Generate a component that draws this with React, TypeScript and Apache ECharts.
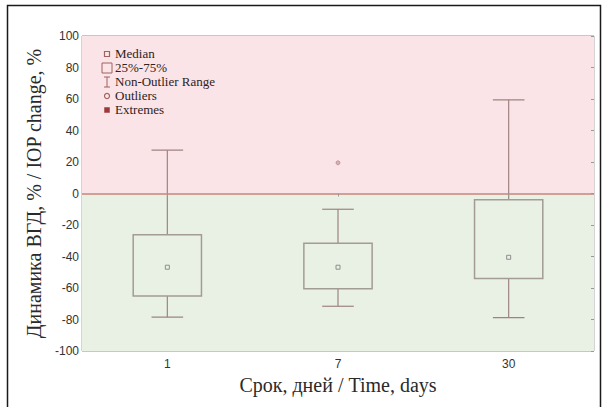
import React, { useEffect, useRef } from "react";
import * as echarts from "echarts";

const categories = ["1", "7", "30"];
const whiskerLow = [-78.5, -71.6, -78.8];
const q1 = [-65.0, -60.5, -54.0];
const median = [-46.8, -46.8, -40.5];
const q3 = [-26.2, -31.6, -4.0];
const whiskerHigh = [27.5, -10.0, 59.5];
const outliers: [number, number][] = [[1, 19.5]];
const yTicks = { min: -100, max: 100, interval: 20 };
const legendLabels = ["Median", "25%-75%", "Non-Outlier Range", "Outliers", "Extremes"];

const BOX_STROKE = "#a39c94";
const WHISKER = "#9e8480";
const SERIF = "'Liberation Serif', 'DejaVu Serif', serif";
const SANS = "'Liberation Sans', Arial, sans-serif";
const LEG = "#a0635e";

export default function App() {
  const ref = useRef<HTMLDivElement>(null);
  useEffect(() => {
    if (!ref.current) return;
    const chart = echarts.init(ref.current, null, { renderer: "svg" });
    const boxData = categories.map((_, i) => [i, whiskerLow[i], q1[i], median[i], q3[i], whiskerHigh[i]]);

    const legY0 = 54;
    const legStep = 14;
    const legX = 107;
    const ly = (i: number) => legY0 + i * legStep;
    const titles = legendLabels.map((t, i) => ({
      text: t,
      left: 115,
      top: ly(i) - 8,
      padding: 0,
      itemGap: 0,
      textStyle: { fontFamily: SERIF, fontSize: 13, fontWeight: "normal", color: "#2e2222", lineHeight: 15 },
      z: 20,
    }));
    const legendGraphics: any[] = [
      { type: "rect", shape: { x: legX - 2.5, y: ly(0) - 2.5, width: 5, height: 5 }, style: { fill: "none", stroke: LEG, lineWidth: 1.2 }, z: 20 },
      { type: "rect", shape: { x: legX - 5, y: ly(1) - 5, width: 10, height: 10 }, style: { fill: "none", stroke: LEG, lineWidth: 1 }, z: 20 },
      { type: "line", shape: { x1: legX, y1: ly(2) - 5, x2: legX, y2: ly(2) + 5 }, style: { stroke: LEG, lineWidth: 1 }, z: 20 },
      { type: "line", shape: { x1: legX - 3, y1: ly(2) - 5, x2: legX + 3, y2: ly(2) - 5 }, style: { stroke: LEG, lineWidth: 1 }, z: 20 },
      { type: "line", shape: { x1: legX - 3, y1: ly(2) + 5, x2: legX + 3, y2: ly(2) + 5 }, style: { stroke: LEG, lineWidth: 1 }, z: 20 },
      { type: "circle", shape: { cx: legX, cy: ly(3), r: 2.5 }, style: { fill: "none", stroke: LEG, lineWidth: 1.2 }, z: 20 },
      { type: "rect", shape: { x: legX - 2.5, y: ly(4) - 2.5, width: 5, height: 5 }, style: { fill: "#9b3a3a", stroke: "#9b3a3a", lineWidth: 0.5 }, z: 20 },
      {
        type: "rect",
        shape: { x: 7.5, y: 5.5, width: 593, height: 420 },
        style: { fill: "none", stroke: "#1a1a1a", lineWidth: 1.5 },
        z: 20,
      },
    ];

    chart.setOption({
      animation: false,
      backgroundColor: "#ffffff",
      title: titles,
      grid: {
        left: 82,
        right: 12,
        top: 36,
        bottom: 56,
        show: true,
        borderColor: "#a9a9a9",
        borderWidth: 1,
        backgroundColor: "transparent",
      },
      xAxis: [
        {
          type: "category",
          data: categories,
          boundaryGap: true,
          axisLine: { show: false },
          axisTick: { show: false },
          axisLabel: { fontFamily: SANS, fontSize: 12, color: "#333", margin: 7 },
          name: "Срок, дней / Time, days",
          nameLocation: "middle",
          nameGap: 21,
          nameTextStyle: { fontFamily: SERIF, fontSize: 20, color: "#2a2a2a" },
        },
        {
          type: "category",
          data: categories,
          position: "top",
          boundaryGap: true,
          z: 5,
          axisLine: { show: false },
          axisTick: { show: true, inside: true, length: 3, alignWithLabel: true, lineStyle: { color: "#999" } },
          axisLabel: { show: false },
        },
      ],
      yAxis: [
        {
          type: "value",
          min: yTicks.min,
          max: yTicks.max,
          interval: yTicks.interval,
          z: 1,
          axisLine: { show: false },
          axisTick: { show: false },
          axisLabel: { fontFamily: SANS, fontSize: 12, color: "#333", margin: 3 },
          splitLine: { show: true, lineStyle: { color: "rgba(120,90,90,0.14)", width: 1.5 } },
          name: "Динамика ВГД, % / IOP change, %",
          nameLocation: "middle",
          nameGap: 31,
          nameTextStyle: { fontFamily: SERIF, fontSize: 20, color: "#2a2a2a" },
        },
        {
          type: "value",
          position: "right",
          min: yTicks.min,
          max: yTicks.max,
          interval: yTicks.interval,
          z: 5,
          axisLine: { show: false },
          axisTick: { show: true, inside: true, length: 3, lineStyle: { color: "#999" } },
          axisLabel: { show: false },
          splitLine: { show: false },
        },
      ],
      graphic: legendGraphics,
      series: [
        {
          type: "line",
          data: [],
          z: 0,
          silent: true,
          markArea: {
            silent: true,
            data: [
              [{ yAxis: 0, itemStyle: { color: "#fbe4e7" } }, { yAxis: 100 }],
              [{ yAxis: -100, itemStyle: { color: "#e8f1e4" } }, { yAxis: 0 }],
            ],
          },
        },
        {
          type: "custom",
          z: 3,
          data: boxData,
          encode: { x: 0, y: [1, 2, 3, 4, 5] },
          renderItem: (params: any, api: any) => {
            const xi = api.value(0);
            const band = api.size([1, 0])[0];
            const boxW = band * 0.4;
            const capW = band * 0.185;
            const pLow = api.coord([xi, api.value(1)]);
            const pQ1 = api.coord([xi, api.value(2)]);
            const pMed = api.coord([xi, api.value(3)]);
            const pQ3 = api.coord([xi, api.value(4)]);
            const pHigh = api.coord([xi, api.value(5)]);
            const cx = pMed[0];
            const ws = { stroke: WHISKER, lineWidth: 1.2 };
            return {
              type: "group",
              children: [
                { type: "line", shape: { x1: cx, y1: pHigh[1], x2: cx, y2: pQ3[1] }, style: ws },
                { type: "line", shape: { x1: cx - capW / 2, y1: pHigh[1], x2: cx + capW / 2, y2: pHigh[1] }, style: ws },
                { type: "line", shape: { x1: cx, y1: pQ1[1], x2: cx, y2: pLow[1] }, style: ws },
                { type: "line", shape: { x1: cx - capW / 2, y1: pLow[1], x2: cx + capW / 2, y2: pLow[1] }, style: ws },
                {
                  type: "rect",
                  shape: { x: cx - boxW / 2, y: pQ3[1], width: boxW, height: pQ1[1] - pQ3[1] },
                  style: { fill: "#e8f1e4", stroke: BOX_STROKE, lineWidth: 1.5 },
                },
                {
                  type: "rect",
                  shape: { x: cx - 2, y: pMed[1] - 2, width: 4, height: 4 },
                  style: { fill: "none", stroke: "#8e8e8a", lineWidth: 1 },
                },
              ],
            };
          },
        },
        {
          type: "scatter",
          z: 4,
          data: outliers,
          symbol: "circle",
          symbolSize: 4,
          itemStyle: { color: "#c9a5a5", borderColor: "#b0807c", borderWidth: 0.8 },
        },
        {
          type: "line",
          data: [],
          z: 2,
          markLine: {
            silent: true,
            symbol: "none",
            label: { show: false },
            lineStyle: { color: "#c8857e", width: 1.5, type: "solid" },
            data: [{ yAxis: 0 }],
          },
        },
      ],
    });
    return () => chart.dispose();
  }, []);
  return <div ref={ref} style={{ position: "absolute", left: 0, top: 0, width: 606, height: 407 }} />;
}
